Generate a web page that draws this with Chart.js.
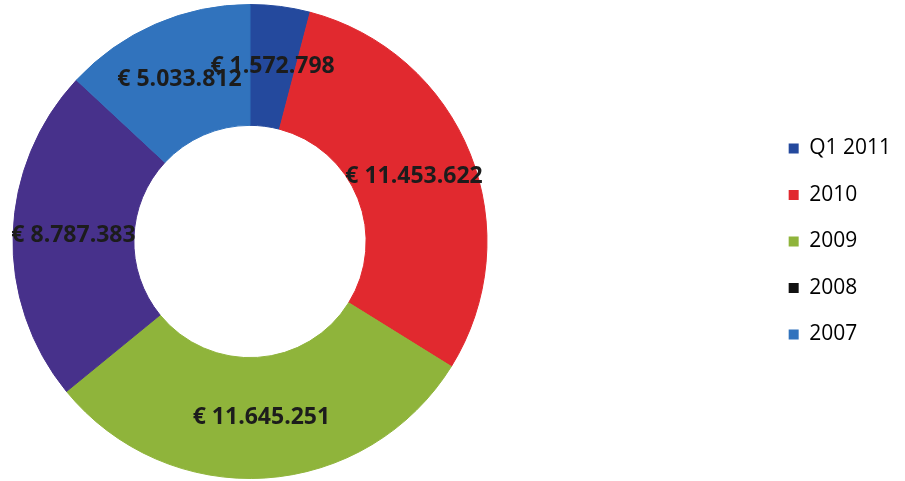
<!DOCTYPE html>
<html>
<head>
<meta charset="utf-8">
<script src="https://cdn.jsdelivr.net/npm/chart.js@4.4.0/dist/chart.umd.min.js"></script>
<style>
  html, body { margin: 0; padding: 0; background: #fff; }
  #wrap { width: 905px; height: 481px; position: relative; }
</style>
</head>
<body>
<div id="wrap"><canvas id="chart"></canvas></div>
<script>
// Revenue per period (euro)
const labels = ['Q1 2011', '2010', '2009', '2008', '2007'];
const values = [1572798, 11453622, 11645251, 8787383, 5033812];
const colors = ['#24499d', '#e1292f', '#8fb43b', '#47318b', '#3173bd'];
const legendColors = ['#24499d', '#e1292f', '#8fb43b', '#111111', '#3173bd'];

// 1234567 -> "€ 1.234.567"
function euro(v) {
  return '€ ' + String(v).replace(/\B(?=(\d{3})+(?!\d))/g, '.');
}

// draws the value in the middle of each ring segment
const sliceLabels = {
  id: 'sliceLabels',
  afterDatasetsDraw(chart) {
    const ctx = chart.ctx;
    const meta = chart.getDatasetMeta(0);
    ctx.save();
    ctx.font = 'bold 23px "Open Sans"';
    ctx.fillStyle = '#1c1c1c';
    ctx.textAlign = 'center';
    ctx.textBaseline = 'middle';
    meta.data.forEach((arc, i) => {
      const p = arc.tooltipPosition();
      ctx.fillText(euro(values[i]), p.x, p.y);
    });
    ctx.restore();
  }
};

new Chart(document.getElementById('chart'), {
  type: 'doughnut',
  data: {
    labels,
    datasets: [{
      data: values,
      backgroundColor: colors,
      borderColor: colors,
      borderWidth: 1,
      hoverOffset: 0
    }]
  },
  options: {
    responsive: true,
    maintainAspectRatio: false,
    animation: false,
    cutout: '49%',
    layout: { padding: { left: 12, top: 4, bottom: 2, right: 4 } },
    plugins: {
      tooltip: { enabled: false },
      // empty title on the right, used as a gap between ring and legend
      title: {
        display: true,
        text: ' ',
        position: 'right',
        weight: 0,
        font: { size: 1 },
        padding: { top: 274, bottom: 0 }
      },
      legend: {
        position: 'right',
        labels: {
          boxWidth: 10,
          boxHeight: 10,
          padding: 25.5,
          color: '#1a1a1a',
          font: { family: '"Open Sans"', size: 21 },
          generateLabels(chart) {
            return labels.map((l, i) => ({
              text: l,
              fillStyle: legendColors[i],
              strokeStyle: legendColors[i],
              lineWidth: 0,
              hidden: false,
              index: i
            }));
          }
        }
      }
    }
  },
  plugins: [sliceLabels]
});
</script>
</body>
</html>
